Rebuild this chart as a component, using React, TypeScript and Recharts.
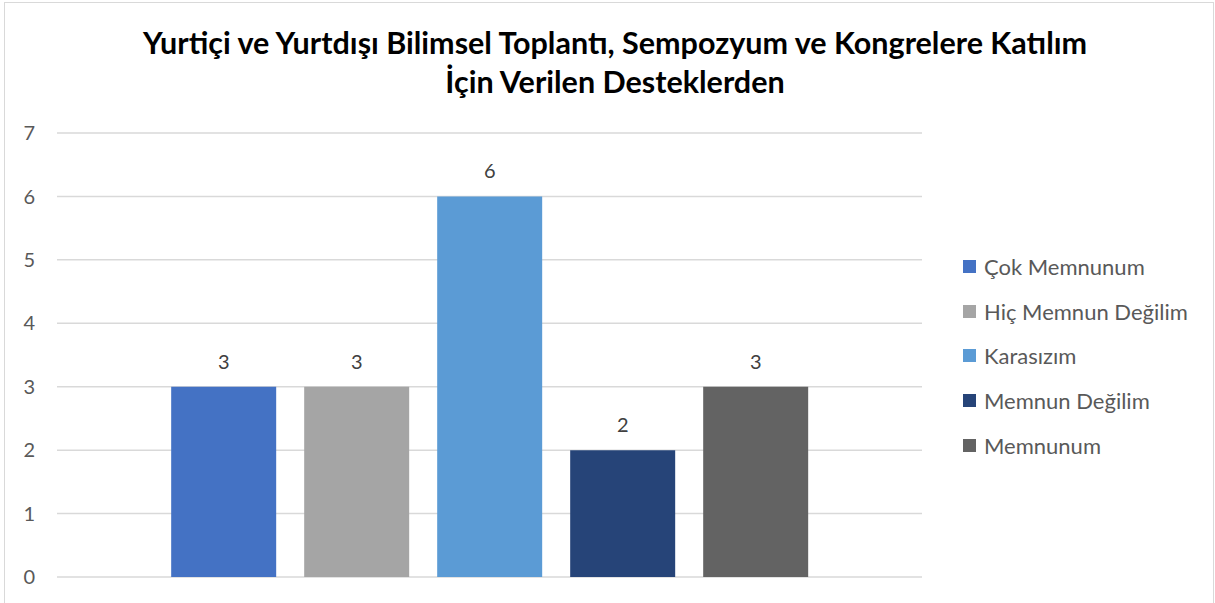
import { Bar, BarChart, CartesianGrid, LabelList, Legend, XAxis, YAxis } from "recharts"

const seriesNames = ["Çok Memnunum", "Hiç Memnun Değilim", "Karasızım", "Memnun Değilim", "Memnunum"]
const seriesValues = [3, 3, 6, 2, 3]
const seriesColors = ["#4472C4", "#A5A5A5", "#5B9BD5", "#264478", "#636363"]
const yTicks = [0, 1, 2, 3, 4, 5, 6, 7]
const titleLines = ["Yurtiçi ve Yurtdışı Bilimsel Toplantı, Sempozyum ve Kongrelere Katılım", "İçin Verilen Desteklerden"]

const row: Record<string, string | number> = { name: "" }
seriesNames.forEach((n, i) => {
  row[n] = seriesValues[i]
})
const data = [row]

const font = "Lato, 'Open Sans', sans-serif"

function LegendList(props: any) {
  const payload = [...(props.payload || [])].sort(
    (a: any, b: any) => seriesNames.indexOf(a.value) - seriesNames.indexOf(b.value)
  )
  return (
    <div style={{ fontFamily: font }}>
      {payload.map((p: any) => (
        <div key={p.value} style={{ display: "flex", alignItems: "center", height: 44.75 }}>
          <span style={{ width: 13, height: 13, background: p.color, display: "inline-block", marginRight: 8 }} />
          <span style={{ fontSize: 22, color: "#595959" }}>{p.value}</span>
        </div>
      ))}
    </div>
  )
}

export default function App() {
  return (
    <div style={{ position: "absolute", left: 0, top: 0, width: 1215, height: 603, background: "#fff", overflow: "hidden" }}>
      <div style={{ position: "absolute", left: 4, top: 2, width: 1210, height: 620, border: "1px solid #d9d9d9", boxSizing: "border-box" }} />
      <div style={{ position: "absolute", left: 0, top: 23, width: 1230, textAlign: "center", fontFamily: font, fontWeight: 700, fontSize: 30.5, lineHeight: "39px", color: "#000" }}>
        {titleLines.map((t) => (
          <div key={t}>{t}</div>
        ))}
      </div>
      <BarChart
        width={1215}
        height={603}
        data={data}
        margin={{ top: 133, right: 293, bottom: 26, left: 17 }}
        barGap={28}
        barCategoryGap="13.2%"
        style={{ position: "absolute", left: 0, top: 0 }}
      >
        <CartesianGrid vertical={false} stroke="#d9d9d9" strokeWidth={1.5} />
        <XAxis dataKey="name" hide />
        <YAxis
          width={40}
          domain={[0, 7]}
          ticks={yTicks}
          axisLine={false}
          tickLine={false}
          tickMargin={16}
          tick={{ fill: "#595959", fontSize: 20, fontFamily: font }}
        />
        <Legend
          layout="horizontal"
          align="center"
          verticalAlign="middle"
          content={<LegendList />}
          wrapperStyle={{ position: "absolute", left: 963, top: 244, width: 250 }}
        />
        {seriesNames.map((n, i) => (
          <Bar key={n} dataKey={n} fill={seriesColors[i]} isAnimationActive={false}>
            <LabelList dataKey={n} position="top" offset={18} fill="#404040" fontSize={20} fontFamily={font} />
          </Bar>
        ))}
      </BarChart>
    </div>
  )
}
